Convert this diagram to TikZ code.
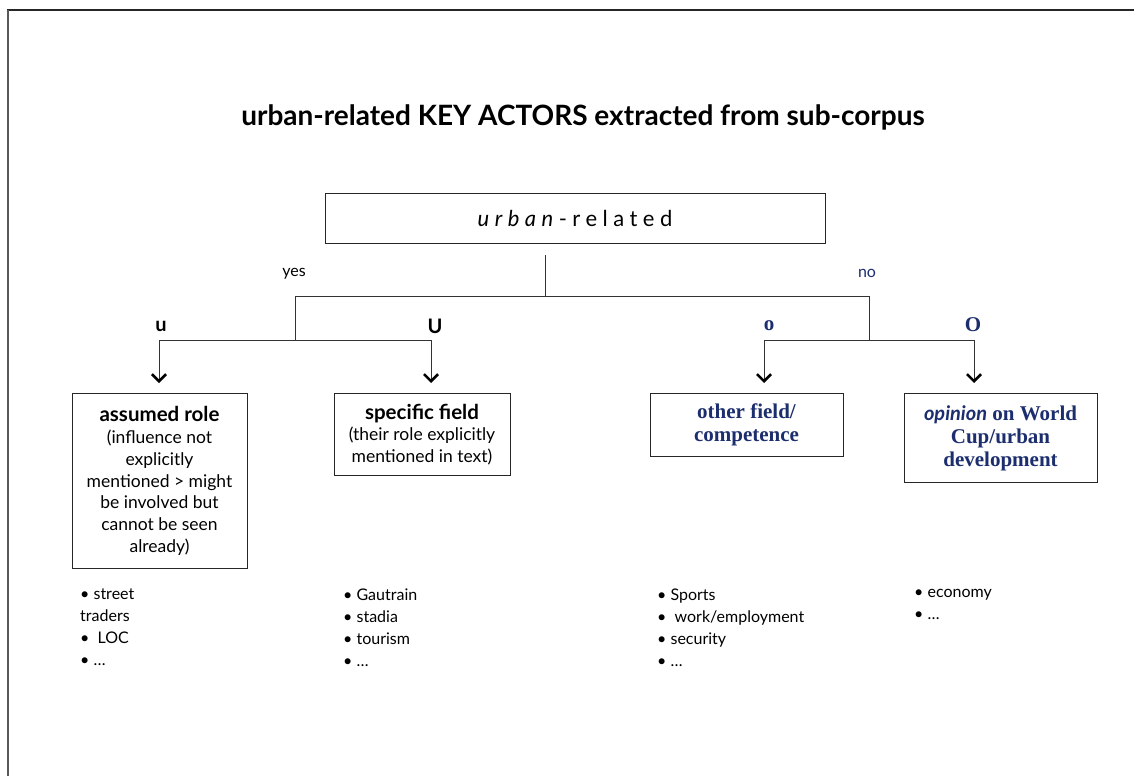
\documentclass[tikz,border=0pt]{standalone}
\usepackage{fontspec}
\setmainfont{Lato}
\newfontfamily\serifb{Liberation Serif}
\usetikzlibrary{arrows.meta}
\definecolor{navy}{RGB}{28,46,110}
\begin{document}
\begin{tikzpicture}[x=1pt,y=-1pt]
\tikzset{
  boxs/.style={draw=black!85, line width=0.9pt, align=center, inner sep=0pt, anchor=north},
  conn/.style={draw=black!80, line width=1pt},
  arr/.style={draw=black!80, line width=1pt, -{Straight Barb[length=7pt,width=14pt,line width=2.6pt,color=black]}},
  lbl/.style={font=\fontsize{20}{24}\selectfont\bfseries},
  blbl/.style={font=\fontsize{21}{24}\selectfont\serifb\bfseries, text=navy},
  bodytxt/.style={font=\fontsize{17.5}{21.7}\selectfont},
  headtxt/.style={font=\fontsize{20.5}{21.7}\selectfont\bfseries},
  listtxt/.style={font=\fontsize{16}{22}\selectfont, align=left, anchor=north west, inner sep=0pt},
}
\useasboundingbox (0,0) rectangle (1134,776);
\fill[white] (0,0) rectangle (1134,776);
% frame
\draw[black!85, line width=1.5pt] (7,10) -- (1134,10);
\draw[black!65, line width=1.5pt] (8,10) -- (8,776);
% title
\node[font=\fontsize{28}{32}\selectfont\bfseries] (title) at (583,117) {urban-related KEY ACTORS extracted from sub-corpus};
% top box
\node[draw=black!85, line width=0.9pt, minimum width=500pt, minimum height=50pt, inner sep=0pt,
      font=\fontsize{22}{26}\selectfont\addfontfeature{LetterSpace=25}] (top) at (575,218)
      {\textit{urban}-related};
\coordinate (s0) at (545,255);
\coordinate (s1) at (545,296);
\coordinate (jl) at (295,296);
\coordinate (jr) at (869,296);
\coordinate (kl) at (295,340);
\coordinate (kr) at (869,340);
\coordinate (a1) at (159,340);
\coordinate (a2) at (431,340);
\coordinate (a3) at (764,340);
\coordinate (a4) at (974,340);
\draw[conn] (s0) -- (s1);
\draw[conn] (jl) -- (jr);
\draw[conn] (jl) -- (kl);
\draw[conn] (jr) -- (kr);
\draw[conn] (a1) -- (a2);
\draw[conn] (a3) -- (a4);
% labels
\node[font=\fontsize{16}{19}\selectfont] (yes) at (294,274) {yes};
\node[font=\fontsize{16}{19}\selectfont, text=navy] (no) at (867,273) {no};
\node[lbl] (lu) at (161,326) {u};
\node[lbl] (lU) at (435,326) {U};
\node[blbl] (lo) at (769,326) {o};
\node[blbl] (lO) at (973,325) {O};
% boxes
\node[boxs, bodytxt, minimum width=175pt, minimum height=175pt] (b1) at (159.5,393)
  {{\fontsize{20.5}{21.7}\selectfont\bfseries assumed role}\\(influence not\\explicitly\\mentioned > might\\be involved but\\cannot be seen\\already)};
\node[boxs, bodytxt, minimum width=176pt, minimum height=82pt] (b2) at (422,393)
  {{\fontsize{20.5}{21.7}\selectfont\bfseries specific field}\\(their role explicitly\\mentioned in text)};
\node[boxs, font=\fontsize{21}{23}\selectfont\serifb\bfseries, text=navy, minimum width=193pt, minimum height=63pt] (b3) at (746.5,393)
  {other field/\\competence};
\node[boxs, font=\fontsize{21}{23}\selectfont\serifb\bfseries, text=navy, minimum width=193pt, minimum height=89pt] (b4) at (1000.5,393)
  {{\normalfont\fontsize{20}{23}\selectfont\itshape\bfseries opinion} on World\\Cup/urban\\development};
\draw[arr] (a1) -- ([yshift=10pt]b1.north -| a1);
\draw[arr] (a2) -- ([yshift=10pt]b2.north -| a2);
\draw[arr] (a3) -- ([yshift=10pt]b3.north -| a3);
\draw[arr] (a4) -- ([yshift=10pt]b4.north -| a4);
% lists
\node[listtxt] (l1) at (80,589) {• street\\traders\\•\ \ LOC\\• \dots};
\node[listtxt] (l2) at (343,589) {• Gautrain\\• stadia\\• tourism\\• \dots};
\node[listtxt] (l3) at (657,589) {• Sports\\•\ \ work/employment\\• security\\• \dots};
\node[listtxt] (l4) at (914,589) {• economy\\• \dots};
\end{tikzpicture}
\end{document}
